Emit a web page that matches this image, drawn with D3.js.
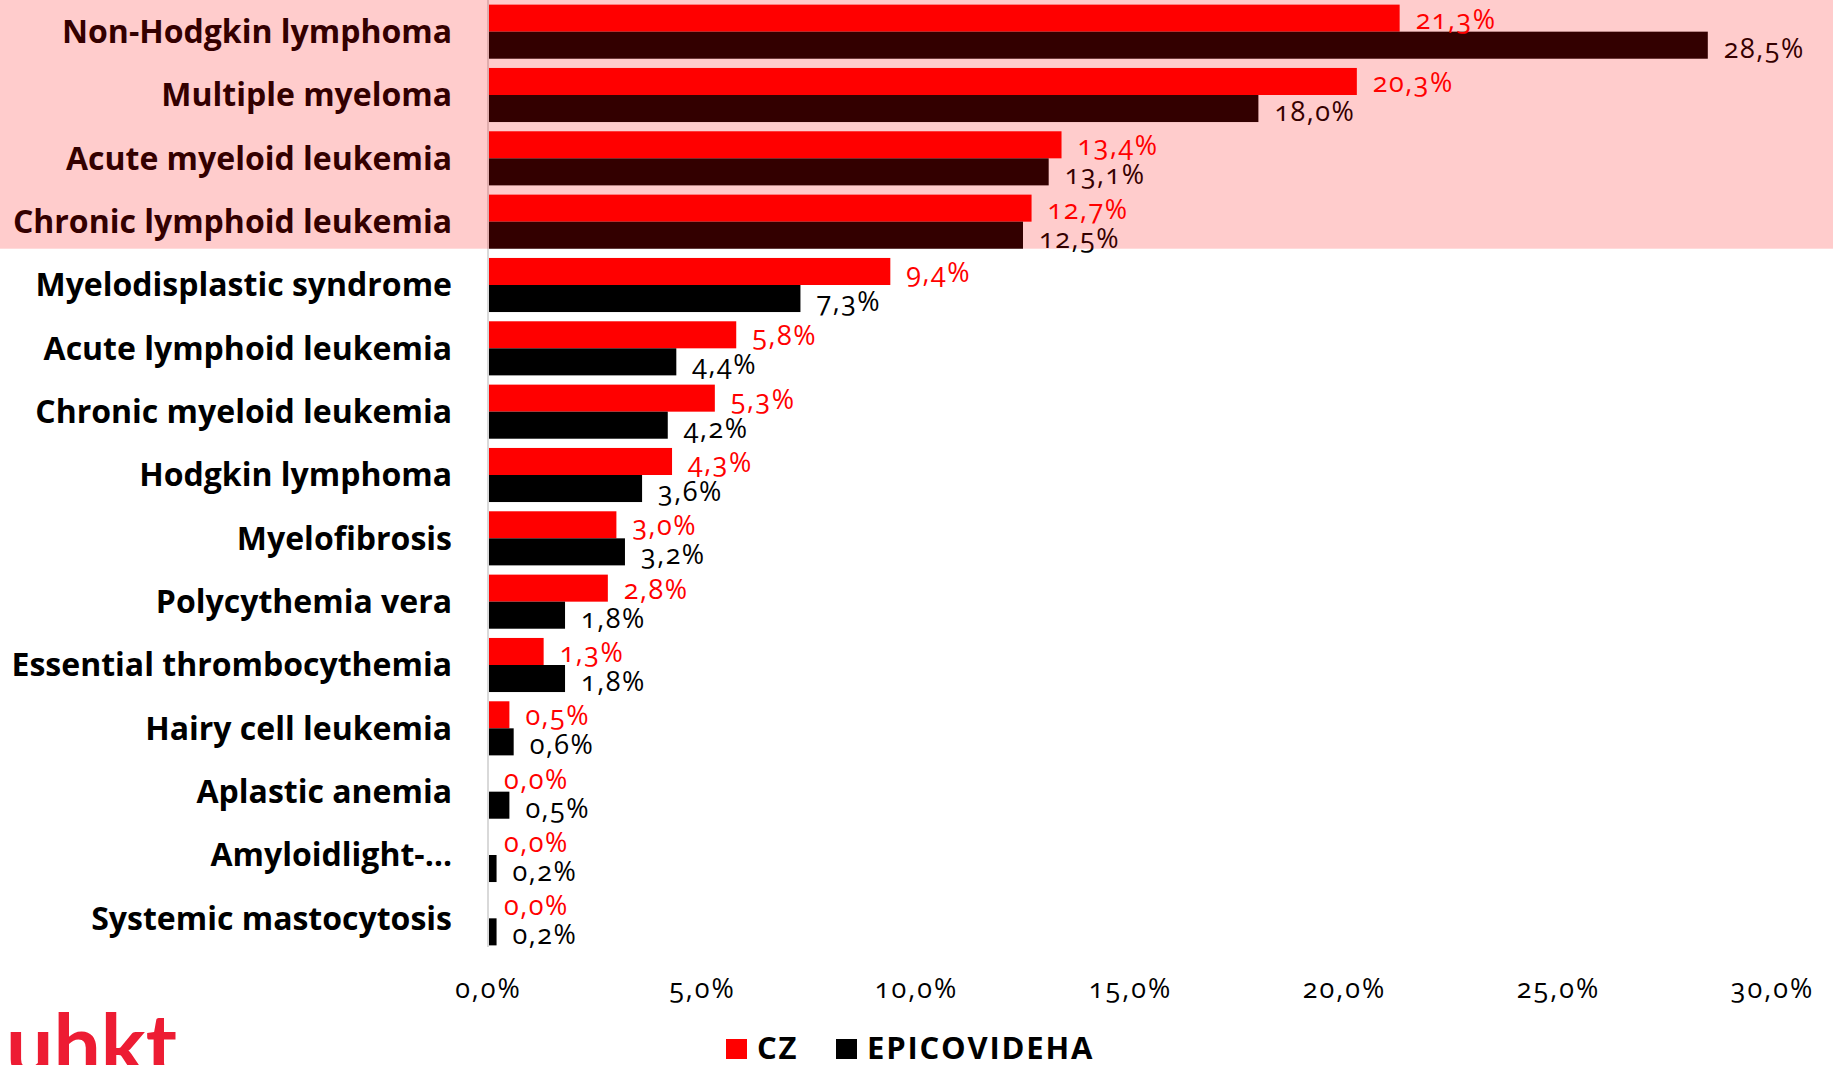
<!DOCTYPE html>
<html lang="en">
	<head>
		<meta charset="utf-8">
		<title>Haematological diagnoses</title>
		<script src="https://d3js.org/d3.v7.min.js"></script>
		<style type="text/css">
			body { margin: 0; background: #fff; }
			text { font-family: "Open Sans", "Noto Sans", sans-serif; font-feature-settings: "onum" 1; }
		</style>
	</head>
	<body>
		<script type="text/javascript">

			//Data
			var categories = ["Non-Hodgkin lymphoma", "Multiple myeloma", "Acute myeloid leukemia", "Chronic lymphoid leukemia",
							"Myelodisplastic syndrome", "Acute lymphoid leukemia", "Chronic myeloid leukemia", "Hodgkin lymphoma",
							"Myelofibrosis", "Polycythemia vera", "Essential thrombocythemia", "Hairy cell leukemia",
							"Aplastic anemia", "Amyloidlight-\u2026", "Systemic mastocytosis"];
			var czValues = [21.3, 20.3, 13.4, 12.7, 9.4, 5.8, 5.3, 4.3, 3.0, 2.8, 1.3, 0.5, 0.0, 0.0, 0.0];
			var epiValues = [28.5, 18.0, 13.1, 12.5, 7.3, 4.4, 4.2, 3.6, 3.2, 1.8, 1.8, 0.6, 0.5, 0.2, 0.2];
			var seriesNames = ["CZ", "EPICOVIDEHA"];
			var xTicks = [0, 5, 10, 15, 20, 25, 30];
			var highlighted = 4;

			//Width and height
			var w = 1833;
			var h = 1065;
			var x0 = 488, x1 = 1772;
			var y0 = 0, y1 = 950;

			var fmt = function(v) { return v.toFixed(1).replace(".", ",") + "%"; };

			//Scales
			var xScale = d3.scaleLinear()
					.domain([0, 30])
					.range([x0, x1]);

			var yScale = d3.scaleBand()
					.domain(categories)
					.range([y0, y1])
					.paddingInner(0.146)
					.paddingOuter(0.073);

			var sub = d3.scaleBand()
					.domain([0, 1])
					.range([0, yScale.bandwidth()]);

			var colors = ["#ff0000", "#000000"];

			var svg = d3.select("body")
						.append("svg")
						.attr("width", w)
						.attr("height", h);

			var rows = categories.map(function(c, i) {
				return { name: c, vals: [czValues[i], epiValues[i]] };
			});

			//Bars
			var groups = svg.selectAll("g.row")
				.data(rows)
				.enter()
				.append("g")
				.attr("class", "row")
				.attr("transform", function(d) { return "translate(0," + yScale(d.name) + ")"; });

			groups.selectAll("rect")
				.data(function(d) { return d.vals; })
				.enter()
				.append("rect")
				.attr("x", xScale(0))
				.attr("y", function(d, i) { return sub(i); })
				.attr("width", function(d) { return xScale(d) - xScale(0); })
				.attr("height", sub.bandwidth())
				.attr("fill", function(d, i) { return colors[i]; });

			groups.selectAll("text.val")
				.data(function(d) { return d.vals; })
				.enter()
				.append("text")
				.attr("class", "val")
				.attr("x", function(d) { return xScale(d) + 16; })
				.attr("y", function(d, i) { return sub(i) + sub.bandwidth() / 2 + (i ? 3 : 1); })
				.attr("dy", "0.35em")
				.attr("font-size", "27px")
				.attr("letter-spacing", "1.5px")
				.attr("fill", function(d, i) { return colors[i]; })
				.text(fmt);

			//Category labels
			groups.append("text")
				.attr("x", 452)
				.attr("y", yScale.bandwidth() / 2)
				.attr("dy", "0.35em")
				.attr("text-anchor", "end")
				.attr("font-size", "32px")
				.attr("font-weight", "bold")
				.attr("letter-spacing", "0px")
				.attr("fill", "#000")
				.text(function(d) { return d.name; });

			//Vertical axis line
			svg.append("line")
				.attr("x1", xScale(0)).attr("x2", xScale(0))
				.attr("y1", y0).attr("y2", y1 - 3)
				.attr("stroke", "#d9d9d9")
				.attr("stroke-width", 2);

			//X axis
			var xAxis = d3.axisBottom(xScale)
				.tickValues(xTicks)
				.tickSize(0)
				.tickPadding(29)
				.tickFormat(fmt);

			var ax = svg.append("g")
				.attr("transform", "translate(0," + y1 + ")")
				.call(xAxis);
			ax.select(".domain").remove();
			ax.selectAll("text")
				.attr("font-size", "27px")
				.attr("letter-spacing", "2px")
				.attr("fill", "#000");

			//Highlight overlay for top rows
			svg.append("rect")
				.attr("x", 0)
				.attr("y", 0)
				.attr("width", w)
				.attr("height", yScale(categories[highlighted - 1]) + yScale.bandwidth())
				.attr("fill", "#ff0000")
				.attr("fill-opacity", 0.2);

			//Legend
			var legend = svg.append("g").attr("transform", "translate(726,1049)");
			var legX = [0, 110];
			seriesNames.forEach(function(n, i) {
				legend.append("rect")
					.attr("x", legX[i]).attr("y", -10)
					.attr("width", 21).attr("height", 20)
					.attr("fill", colors[i]);
				legend.append("text")
					.attr("x", legX[i] + 31).attr("y", 10)
					.attr("font-size", "31px")
					.attr("font-weight", "bold")
					.attr("letter-spacing", "1.8px")
					.attr("fill", "#000")
					.text(n);
			});

			//Logo
			svg.append("text")
				.attr("x", 6)
				.attr("y", 1075)
				.attr("font-size", "84px")
				.attr("font-weight", "bold")
				.style("font-family", "Lato, sans-serif")
				.attr("fill", "#ed1c33")
				.text("uhkt");

		</script>
	</body>
</html>
